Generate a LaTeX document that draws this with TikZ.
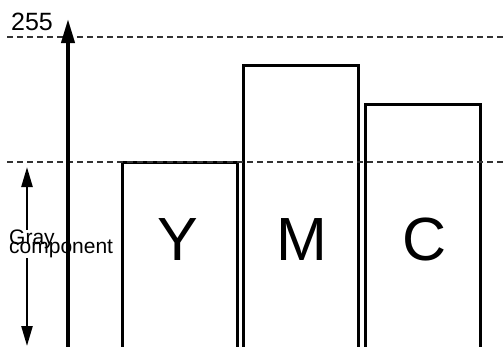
\documentclass[tikz,border=0pt]{standalone}
\usepackage{fontspec}
\setmainfont{Liberation Sans}
\usetikzlibrary{arrows.meta}
\begin{document}
\begin{tikzpicture}[x=1pt,y=-1pt,
  bar/.style={draw=black, line width=3pt, rectangle, inner sep=0pt},
  guide/.style={draw=black!80, line width=1.3pt, dash pattern=on 6pt off 4pt},
  letter/.style={anchor=base, inner sep=0pt, font=\fontsize{61}{61}\selectfont},
  axisline/.style={line width=4pt, -{Triangle[length=24pt,width=13pt]}},
  span/.style={line width=2.4pt, {Triangle[length=20pt,width=11pt]}-{Triangle[length=20pt,width=11pt]}}]
\useasboundingbox (0,0) rectangle (504,346);
\clip (0,0) rectangle (504,346);
% bars
\node[bar, minimum width=115pt, minimum height=188pt] (Ybox) at (179.5,256) {};
\node[bar, minimum width=115pt, minimum height=285pt] (Mbox) at (300.5,207.5) {};
\node[bar, minimum width=115pt, minimum height=246pt] (Cbox) at (422.5,227) {};
% dashed guides
\coordinate (g1a) at (7,37);
\coordinate (g1b) at (504,37);
\coordinate (g2a) at (7,162);
\coordinate (g2b) at (504,162);
\draw[guide] (g1a) -- (g1b);
\draw[guide] (g2a) -- (g2b);
% gray component span
\coordinate (gT) at (27,167);
\coordinate (gB) at (27,346);
\draw[span] (gT) -- (gB);
\node[anchor=north west, align=left, fill=white, inner sep=0pt,
  font={\fontsize{21}{9}\selectfont\lineskiplimit=-100pt\lineskip=0pt}] (gray) at (9,229.5) {Gray\\component};
% axis
\coordinate (axB) at (68,350);
\coordinate (axT) at (68,19);
\draw[axisline] (axB) -- (axT);
\node[anchor=base west, inner sep=0pt, font=\fontsize{25}{25}\selectfont] (max) at (11,30) {255};
% letters
\node[letter] (Y) at (178,260) {Y};
\node[letter] (M) at (302,260) {M};
\node[letter] (C) at (425,260) {C};
\end{tikzpicture}
\end{document}
